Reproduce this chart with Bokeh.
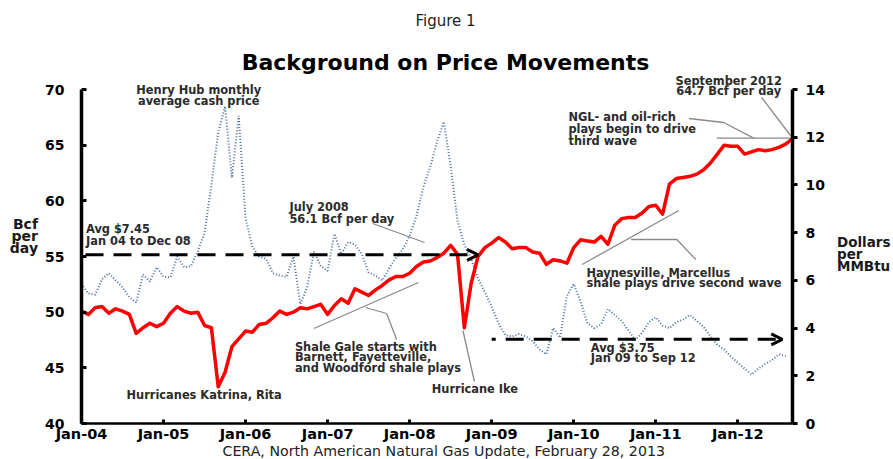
from bokeh.plotting import figure
from bokeh.models import Range1d, LinearAxis, FixedTicker, Label, Arrow, OpenHead, Title
from bokeh.embed import file_html
from bokeh.resources import INLINE

# ---------------- data ----------------
tick_months = [0, 12, 24, 36, 48, 60, 72, 84, 96]
tick_labels = ["Jan-04", "Jan-05", "Jan-06", "Jan-07", "Jan-08",
               "Jan-09", "Jan-10", "Jan-11", "Jan-12"]

# Dry gas production, Bcf per day, Jan 2004 .. Sep 2012 (left axis)
production = [
    50.1, 49.8, 50.4, 50.5, 49.9, 50.3, 50.1, 49.8, 48.1, 48.6, 49.0, 48.7,
    49.0, 49.9, 50.5, 50.1, 49.9, 50.0, 48.8, 48.6, 43.3, 44.6, 46.9, 47.6,
    48.3, 48.2, 48.9, 49.0, 49.5, 50.1, 49.8, 50.0, 50.4, 50.3, 50.5, 50.7,
    49.8, 50.6, 51.2, 50.8, 52.1, 51.8, 51.5, 52.0, 52.4, 52.9, 53.2, 53.2,
    53.5, 54.1, 54.5, 54.6, 54.9, 55.3, 56.0, 55.2, 48.6, 52.6, 55.0, 55.8,
    56.2, 56.7, 56.3, 55.7, 55.8, 55.8, 55.4, 55.3, 54.3, 54.7, 54.6, 54.4,
    55.8, 56.5, 56.4, 56.3, 56.8, 56.1, 57.8, 58.4, 58.5, 58.5, 58.9, 59.5,
    59.6, 58.8, 61.5, 62.0, 62.1, 62.2, 62.4, 62.8, 63.4, 64.2, 65.0, 64.9,
    64.9, 64.2, 64.4, 64.6, 64.5, 64.6, 64.8, 65.1, 65.6,
]
production_months = list(range(len(production)))

# Henry Hub monthly average cash price, $/MMBtu (right axis)
price = [
    5.85, 5.45, 5.40, 6.05, 6.30, 6.00, 5.70, 5.30, 5.07, 6.25, 5.95, 6.55,
    6.15, 6.12, 7.00, 6.55, 6.60, 7.20, 8.00, 10.0, 12.2, 13.3, 10.3, 12.9,
    8.60, 7.40, 7.00, 6.90, 6.30, 6.20, 6.15, 7.00, 5.00, 5.70, 7.20, 6.60,
    6.40, 7.95, 7.10, 7.60, 7.50, 7.10, 6.33, 6.20, 6.00, 6.50, 6.95, 7.30,
    7.87, 8.70, 9.90, 10.74, 11.8, 12.65, 10.8, 8.50, 7.50, 6.90, 6.10, 5.50,
    4.90, 4.20, 3.70, 3.65, 3.75, 3.65, 3.45, 3.10, 2.90, 4.00, 3.60, 5.35,
    5.85, 5.10, 4.20, 4.00, 4.15, 4.80, 4.55, 4.30, 3.90, 3.50, 3.80, 4.25,
    4.45, 4.10, 4.00, 4.25, 4.35, 4.55, 4.30, 4.05, 3.65, 3.30, 3.10, 2.80,
    2.55, 2.30, 2.05, 2.30, 2.50, 2.65, 2.90, 2.83,
]
price_months = list(range(len(price)))

# average price lines (level as drawn, start month, end month)
avg_levels = [7.07, 3.53]
avg_start = [0, 60]
avg_end = [58, 102.5]

left_ticks = [40, 45, 50, 55, 60, 65, 70]
right_ticks = [0, 2, 4, 6, 8, 10, 12, 14]

# ---------------- layout ----------------
W, H = 893, 459
FL, FT, FW, FH = 81, 89, 713, 334     # axis box (page pixels)
XMAX = 104
Y0, Y1 = 40, 70
P1 = 14
YTOP = Y1 + FT * (Y1 - Y0) / FH        # frame reaches to the top of the canvas
PTOP = (YTOP - Y0) * P1 / (Y1 - Y0)

p = figure(width=W, height=H, x_range=Range1d(0, XMAX), y_range=Range1d(Y0, YTOP),
           output_backend="svg", toolbar_location=None, title=None,
           min_border_left=FL, min_border_right=W - FL - FW,
           min_border_top=0, min_border_bottom=H - FT - FH)
p.extra_y_ranges = {"price": Range1d(0, PTOP)}
p.grid.visible = False
p.outline_line_color = None
p.background_fill_color = "white"
p.border_fill_color = "white"


def pos(x, y):
    """page pixel position -> data coords of the left axis"""
    xd = (x - FL) / FW * XMAX
    yd = Y1 - (y - FT) / FH * (Y1 - Y0)
    return xd, yd


FONT = "DejaVu Sans"

# axes
xa = p.xaxis[0]
xa.ticker = FixedTicker(ticks=tick_months)
xa.major_label_overrides = {m: l for m, l in zip(tick_months, tick_labels)}
xa.axis_line_width = 2.5
xa.axis_line_color = "black"
xa.major_tick_in = 4
xa.major_tick_out = 0
xa.major_tick_line_width = 3
xa.minor_tick_line_color = None
xa.major_label_text_font = FONT
xa.major_label_text_font_style = "bold"
xa.major_label_text_font_size = "14.5px"
xa.major_label_text_color = "black"
xa.major_label_standoff = 2

ya = p.yaxis[0]
ya.ticker = FixedTicker(ticks=left_ticks)
ya.bounds = (Y0, Y1)
ya.axis_line_width = 3.5
ya.axis_line_color = "black"
ya.major_tick_in = 5
ya.major_tick_out = 0
ya.major_tick_line_width = 3
ya.minor_tick_line_color = None
ya.major_label_text_font = FONT
ya.major_label_text_font_style = "bold"
ya.major_label_text_font_size = "14px"
ya.major_label_text_color = "black"
ya.major_label_standoff = 17
ya.axis_label = "\n\n\n\nBcf\nper\nday"
ya.axis_label_orientation = "horizontal"
ya.axis_label_text_font = FONT
ya.axis_label_text_font_style = "bold"
ya.axis_label_text_font_size = "14px"
ya.axis_label_text_line_height = 0.75
ya.axis_label_text_color = "#1a1a1a"
ya.axis_label_text_align = "center"
ya.axis_label_standoff = 4

ra = LinearAxis(y_range_name="price", ticker=FixedTicker(ticks=right_ticks), bounds=(0, P1))
ra.axis_line_width = 3.5
ra.axis_line_color = "black"
ra.major_tick_in = 0
ra.major_tick_out = 5
ra.major_tick_line_width = 3
ra.minor_tick_line_color = None
ra.major_label_text_font = FONT
ra.major_label_text_font_style = "bold"
ra.major_label_text_font_size = "14px"
ra.major_label_text_color = "black"
ra.major_label_standoff = 8
ra.axis_label = "\n\n\n\n\n\n\nDollars\nper\nMMBtu"
ra.axis_label_orientation = "horizontal"
ra.axis_label_text_font = FONT
ra.axis_label_text_font_style = "bold"
ra.axis_label_text_font_size = "13.5px"
ra.axis_label_text_line_height = 0.75
ra.axis_label_text_color = "#1a1a1a"
ra.axis_label_text_align = "center"
ra.axis_label_standoff = 9
p.add_layout(ra, "right")

# source line below the axis
p.add_layout(Title(text="CERA, North American Natural Gas Update, February 28, 2013",
                   align="left", offset=141, vertical_align="top", standoff=-3,
                   text_font=FONT, text_font_size="14.2px", text_font_style="normal",
                   text_color="#222222"), "below")

# data lines
p.line(price_months, price, y_range_name="price", line_color="#4d6ea3",
       line_width=2, line_dash="1 2")
p.line(production_months, production, line_color="#ff0000", line_width=3.5,
       line_join="round")

# average arrows
for lvl, s, e, off in zip(avg_levels, avg_start, avg_end, [24, 14]):
    p.add_layout(Arrow(end=OpenHead(size=11, line_width=3, line_color="black"),
                       x_start=s, y_start=lvl, x_end=e, y_end=lvl,
                       y_range_name="price", line_color="black", line_width=3,
                       line_dash="18 10", line_dash_offset=off))

# leader lines (page pixel positions)
leaders = [
    [(373, 223), (425, 242)],
    [(314, 328), (419, 282)],
    [(366, 307), (387, 313), (397, 339)],
    [(463.5, 330), (475, 381)],
    [(583, 264), (680, 210)],
    [(632, 239), (678, 239), (697, 259)],
    [(690, 118), (725, 122), (755, 137.7)],
    [(718, 137.7), (794, 137.7)],
    [(763, 97), (792, 135)],
]
xs, ys = [], []
for pts in leaders:
    cc = [pos(x, y) for x, y in pts]
    xs.append([c[0] for c in cc])
    ys.append([c[1] for c in cc])
p.multi_line(xs, ys, line_color="#8a8a8a", line_width=1.3)


def label(text, x, y, size="11.4px", align="left", style="bold", color="#2b2b2b"):
    xd, yd = pos(x, y)
    p.add_layout(Label(x=xd, y=yd, text=text, text_font=FONT, text_font_size=size,
                       text_font_style=style, text_align=align,
                       text_baseline="middle", text_color=color))


# titles
label("Figure 1", 446, 20, size="15px", align="center", style="normal", color="#222222")
label("Background on Price Movements", 446, 62, size="22px", align="center", color="black")

# annotations
label("Henry Hub monthly", 198.5, 89.5, align="center")
label("average cash price", 198.5, 100.5, align="center")
label("Avg $7.45", 85.5, 228.5)
label("Jan 04 to Dec 08", 85.5, 240.5)
label("July 2008", 289.5, 206.5)
label("56.1 Bcf per day", 289.5, 218)
label("Shale Gale starts with", 295, 346)
label("Barnett, Fayetteville,", 295, 356.7)
label("and Woodford shale plays", 295, 367.3)
label("Hurricanes Katrina, Rita", 204, 394, align="center")
label("Hurricane Ike", 475.5, 388.3, align="center")
label("Avg $3.75", 591.7, 347.3)
label("Jan 09 to Sep 12", 591.7, 357.5)
label("Haynesville, Marcellus", 587.3, 272.7)
label("shale plays drive second wave", 587.3, 282.7)
label("NGL- and oil-rich", 569.3, 116.7)
label("plays begin to drive", 569.3, 128.5)
label("third wave", 569.3, 140)
label("September 2012", 730, 80, align="center")
label("64.7 Bcf per day", 730, 90.7, align="center")

open("out.html", "w").write(file_html(p, INLINE))
